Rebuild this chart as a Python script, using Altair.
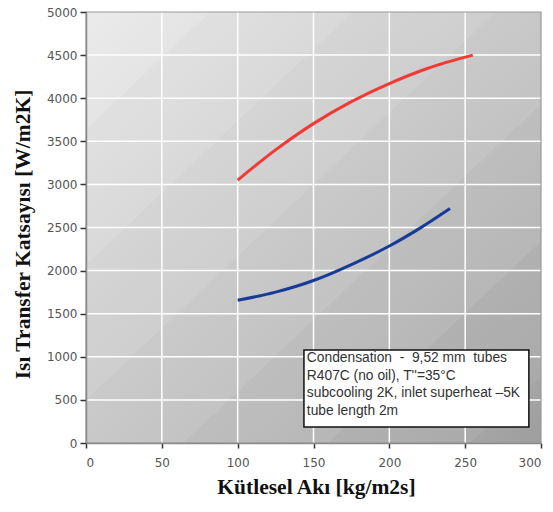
import altair as alt
import pandas as pd

# ---- data ----
x_ticks = [0, 50, 100, 150, 200, 250, 300]
y_ticks = [0, 500, 1000, 1500, 2000, 2500, 3000, 3500, 4000, 4500, 5000]

red_x = [100, 125, 150, 175, 200, 225, 255]
red_y = [3050, 3400, 3705, 3960, 4170, 4345, 4500]

blue_x = [100, 125, 150, 175, 200, 220, 240]
blue_y = [1655, 1750, 1885, 2070, 2285, 2490, 2720]

NB = "\u00a0"
note_lines = [
    "Condensation" + NB * 2 + "-" + NB * 2 + "9,52 mm" + NB * 2 + "tubes",
    "R407C (no oil), T''=35°C",
    "subcooling 2K, inlet superheat \u20135K",
    "tube length 2m",
]
note_x = [143.7, 292.0]
note_y = [186.0, 1079.0]
note_text_x = 145.6
note_text_y = 1062.0

x_title = "Kütlesel Akı [kg/m2s]"
y_title = "Isı Transfer Katsayısı [W/m2K]"

# ---- styling ----
W, H = 455, 431
SERIF = "Liberation Serif"
SANS = "DejaVu Sans"

band_edges = [0.0, 0.136, 0.293, 0.45, 0.607, 0.766, 0.922, 1.0]
band_light = ["#ebebeb", "#e0e0e0", "#d5d5d5", "#cacaca", "#bebebe", "#b1b1b1", "#a5a5a5"]
band_dark = ["#e4e4e4", "#d9d9d9", "#cecece", "#c3c3c3", "#b7b7b7", "#aaaaaa", "#9e9e9e"]
stops = []
for i in range(len(band_light)):
    stops.append(alt.GradientStop(offset=band_edges[i], color=band_light[i]))
    stops.append(alt.GradientStop(offset=band_edges[i + 1], color=band_dark[i]))
grad = alt.Gradient(gradient="linear", stops=stops, x1=0, y1=0, x2=1, y2=1)

xscale = alt.Scale(domain=[0, 300], nice=False)
yscale = alt.Scale(domain=[0, 5000], nice=False)

one = pd.DataFrame({"a": [0]})

bg = alt.Chart(one).mark_rect(fill=grad, strokeWidth=0).encode(
    x=alt.value(0), x2=alt.value(W), y=alt.value(0), y2=alt.value(H)
)

xaxis = alt.Axis(
    values=x_ticks, grid=False, tickSize=5, tickColor="#333333", tickWidth=1.5,
    domainColor="#8a8a8a", domainWidth=1.5, labelFont=SANS, labelFontSize=12,
    labelColor="#555555", labelPadding=9, format="d", title=x_title, titleFont=SERIF,
    titleFontSize=21.5, titleFontWeight="bold", titleColor="#111111",
    titleX=230, titleY=50, titleBaseline="alphabetic", titleAlign="center",
    zindex=1,
)
yaxis = alt.Axis(
    values=y_ticks, grid=False, tickSize=6, tickColor="#333333", tickWidth=1.5,
    domainColor="#8a8a8a", domainWidth=1.5, labelFont=SANS, labelFontSize=12,
    labelColor="#555555", labelPadding=3, format="d", title=y_title, titleFont=SERIF,
    titleFontSize=21.5, titleFontWeight="bold", titleColor="#111111",
    titleX=-52, titleY=222, titleAngle=-90, titleAlign="center",
    titleBaseline="bottom", zindex=1,
)

xgrid = alt.Chart(pd.DataFrame({"x": x_ticks[1:-1]})).mark_rule(
    color="white", strokeWidth=1.5
).encode(x=alt.X("x:Q", scale=xscale, axis=xaxis))

ygrid = alt.Chart(pd.DataFrame({"y": y_ticks[1:-1]})).mark_rule(
    color="white", strokeWidth=1.5
).encode(y=alt.Y("y:Q", scale=yscale, axis=yaxis))

red = alt.Chart(pd.DataFrame({"x": red_x, "y": red_y})).mark_line(
    color="#f23a35", strokeWidth=3, interpolate="monotone"
).encode(x=alt.X("x:Q", scale=xscale), y=alt.Y("y:Q", scale=yscale))

blue = alt.Chart(pd.DataFrame({"x": blue_x, "y": blue_y})).mark_line(
    color="#173c98", strokeWidth=3, interpolate="monotone"
).encode(x=alt.X("x:Q", scale=xscale), y=alt.Y("y:Q", scale=yscale))

box = alt.Chart(pd.DataFrame({"x1": [note_x[0]], "x2": [note_x[1]],
                              "y1": [note_y[0]], "y2": [note_y[1]]})).mark_rect(
    fill="white", stroke="#111111", strokeWidth=1.5
).encode(x=alt.X("x1:Q", scale=xscale), x2="x2:Q",
         y=alt.Y("y1:Q", scale=yscale), y2="y2:Q")

txt = alt.Chart(pd.DataFrame({"x": [note_text_x], "y": [note_text_y]})).mark_text(
    text=note_lines, align="left", baseline="top", font="Liberation Sans",
    fontSize=13.8, lineHeight=17.5, color="#333333"
).encode(x=alt.X("x:Q", scale=xscale), y=alt.Y("y:Q", scale=yscale))

border = alt.Chart(one).mark_rect(fillOpacity=0, stroke="#9a9a9a", strokeWidth=1.2).encode(
    x=alt.value(0), x2=alt.value(W), y=alt.value(0), y2=alt.value(H)
)

chart = alt.layer(bg, xgrid, ygrid, red, blue, box, txt, border).properties(
    width=W, height=H,
    autosize=alt.AutoSizeParams(type="none"),
    padding={"left": 86, "top": 12, "right": 12, "bottom": 69},
    background="white",
).configure_view(stroke=None)

chart.save("out.html", embed_options={"renderer": "svg", "actions": False})
